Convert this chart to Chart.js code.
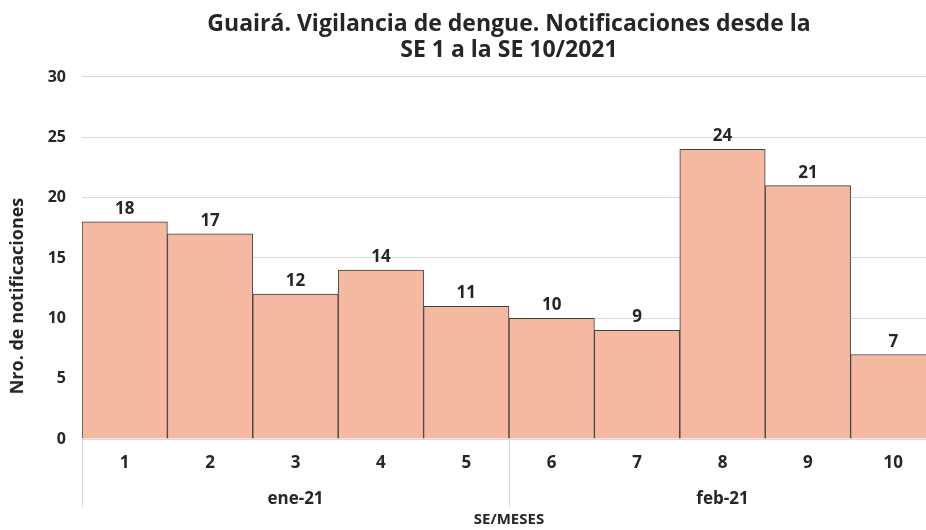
<!DOCTYPE html>
<html>
<head>
<meta charset="utf-8">
<script src="https://cdn.jsdelivr.net/npm/chart.js@4/dist/chart.umd.min.js"></script>
<style>
  html, body { margin: 0; padding: 0; background: #fff; overflow: hidden; }
  #wrap { width: 936px; height: 530px; position: relative; }
</style>
</head>
<body>
<div id="wrap"><canvas id="c"></canvas></div>
<script>
const weeks = ['1', '2', '3', '4', '5', '6', '7', '8', '9', '10'];
const months = ['ene-21', 'feb-21'];
const notifications = [18, 17, 12, 14, 11, 10, 9, 24, 21, 7];
const yTicks = [0, 5, 10, 15, 20, 25, 30];
const yTitle = 'Nro. de notificaciones';

const FONT = "'Open Sans', 'Noto Sans', sans-serif";
const TXT = '#262626';

const valueLabels = {
  id: 'valueLabels',
  afterDatasetsDraw(chart) {
    const ctx = chart.ctx;
    const meta = chart.getDatasetMeta(0);
    ctx.save();
    ctx.font = "bold 17px " + FONT;
    ctx.fillStyle = TXT;
    ctx.textAlign = 'center';
    ctx.textBaseline = 'alphabetic';
    meta.data.forEach((bar, i) => {
      ctx.fillText(String(notifications[i]), bar.x, bar.y - 8);
    });
    ctx.restore();
  }
};

const yAxisTitle = {
  id: 'yAxisTitle',
  afterDraw(chart) {
    const ctx = chart.ctx;
    ctx.save();
    ctx.translate(18, 296);
    ctx.rotate(-Math.PI / 2);
    ctx.font = "bold 18px " + FONT;
    ctx.fillStyle = TXT;
    ctx.textAlign = 'center';
    ctx.textBaseline = 'middle';
    ctx.fillText(yTitle, 0, 0);
    ctx.restore();
  }
};

const monthSeparators = {
  id: 'monthSeparators',
  afterDraw(chart) {
    const s = chart.scales.x2;
    const ctx = chart.ctx;
    const half = (s.getPixelForValue(1) - s.getPixelForValue(0)) / 2;
    ctx.save();
    ctx.strokeStyle = '#d9d9d9';
    ctx.lineWidth = 1;
    for (let i = 0; i <= months.length; i++) {
      const x = Math.round(s.getPixelForValue(0) - half + i * 2 * half) + 0.5;
      ctx.beginPath();
      ctx.moveTo(x, chart.chartArea.bottom);
      ctx.lineTo(x, 507);
      ctx.stroke();
    }
    ctx.restore();
  }
};

new Chart(document.getElementById('c'), {
  type: 'bar',
  data: {
    labels: weeks,
    datasets: [{
      data: notifications,
      backgroundColor: '#F4B9A0',
      borderColor: '#3f3f3f',
      borderWidth: 1,
      categoryPercentage: 1.0,
      barPercentage: 1.0,
      xAxisID: 'x',
      yAxisID: 'y'
    }]
  },
  options: {
    responsive: true,
    maintainAspectRatio: false,
    animation: false,
    layout: { padding: 0 },
    plugins: {
      legend: { display: false },
      tooltip: { enabled: false },
      title: {
        display: true,
        fullSize: false,
        text: ['Guairá. Vigilancia de dengue. Notificaciones desde la', 'SE 1 a la SE 10/2021'],
        color: TXT,
        font: { family: FONT, size: 23, weight: 'bold', lineHeight: 1.13 },
        padding: { top: 11, bottom: 14 }
      }
    },
    scales: {
      x: {
        type: 'category',
        position: 'bottom',
        offset: true,
        afterFit(scale) { scale.height = 35; },
        grid: { display: false, drawTicks: false },
        border: { display: false },
        ticks: { color: TXT, font: { family: FONT, size: 17, weight: 'bold' }, padding: 14, maxRotation: 0 }
      },
      x2: {
        type: 'category',
        position: 'bottom',
        labels: months,
        offset: true,
        afterFit(scale) { scale.height = 56; },
        grid: { display: false, drawTicks: false },
        border: { display: false },
        ticks: { color: TXT, font: { family: FONT, size: 17, weight: 'bold' }, padding: 15, maxRotation: 0 },
        title: {
          display: true,
          text: 'SE/MESES',
          color: TXT,
          font: { family: FONT, size: 15, weight: 'bold' },
          padding: { top: 0, bottom: 1 }
        }
      },
      y: {
        min: 0,
        max: 30,
        afterBuildTicks(scale) { scale.ticks = yTicks.map(v => ({ value: v })); },
        afterFit(scale) { scale.width = 82; },
        grid: { color: '#d9d9d9', lineWidth: 1, drawTicks: false },
        border: { display: false },
        ticks: { color: TXT, font: { family: FONT, size: 16, weight: 'bold' }, padding: 16 },
        title: { display: false }
      }
    }
  },
  plugins: [valueLabels, monthSeparators, yAxisTitle]
});
</script>
</body>
</html>
